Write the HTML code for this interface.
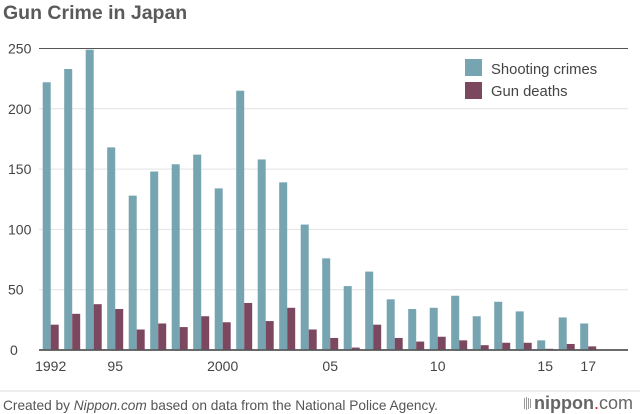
<!DOCTYPE html>
<html><head><meta charset="utf-8"><style>
body{margin:0;background:#fff;font-family:"Liberation Sans",sans-serif;}
#wrap{position:relative;width:640px;height:414px;overflow:hidden;}
</style></head><body>
<div id="wrap">
<svg id="chart" width="640" height="414" xmlns="http://www.w3.org/2000/svg">
<text x="3" y="19" font-size="19.5" font-weight="bold" fill="#5a5a5a" font-family="Liberation Sans, sans-serif">Gun Crime in Japan</text>
<g id="grid"></g>
<g id="bars"></g>
<g id="legend">
<rect x="465" y="59" width="17" height="17" fill="#76a4b1"/>
<text x="491" y="74" font-size="14.8" fill="#444">Shooting crimes</text>
<rect x="465" y="82" width="17" height="17" fill="#7c4860"/>
<text x="491" y="96" font-size="14.8" fill="#444">Gun deaths</text>
</g>
<line x1="0" y1="391" x2="640" y2="391" stroke="#ddd" stroke-width="1"/>
<text x="3" y="410" font-size="13.7" fill="#555">Created by <tspan font-style="italic">Nippon.com</tspan> based on data from the National Police Agency.</text>
<g>
<rect x="524" y="398" width="1" height="11" fill="#999"/><rect x="526" y="397" width="1" height="13" fill="#999"/><rect x="528" y="398" width="1" height="11" fill="#999"/><rect x="530" y="399" width="1" height="9" fill="#999"/>
<text x="534" y="409" font-size="18" fill="#666"><tspan font-weight="bold">nippon</tspan><tspan fill="#d22">.</tspan>com</text>
</g>
</svg>
</div>
<script>
const years=["1992","1993","1994","1995","1996","1997","1998","1999","2000","2001","2002","2003","2004","2005","2006","2007","2008","2009","2010","2011","2012","2013","2014","2015","2016","2017"];
const shooting=[222,233,249,168,128,148,154,162,134,215,158,139,104,76,53,65,42,34,35,45,28,40,32,8,27,22];
const deaths=[21,30,38,34,17,22,19,28,23,39,24,35,17,10,2,21,10,7,11,8,4,6,6,1,5,3];
const yTicks=[0,50,100,150,200,250];
const xLabels={"1992":"1992","1995":"95","2000":"2000","2005":"05","2010":"10","2015":"15","2017":"17"};
const NS="http://www.w3.org/2000/svg";
const y0=350, pxPer=(350-48.5)/250;
function yS(v){return y0-v*pxPer;}
function xS(i){return 42.7+i*21.5;}
const bw=8;
const grid=document.getElementById('grid'), bars=document.getElementById('bars');
function mk(tag,attrs,parent){const e=document.createElementNS(NS,tag);for(const k in attrs)e.setAttribute(k,attrs[k]);parent.appendChild(e);return e;}
yTicks.forEach(t=>{
  const l=mk('line',{x1:39,x2:628,y1:yS(t),y2:yS(t),stroke:t===250?'#555':(t===0?'#555':'#e2e2e2'),'stroke-width':t===0?1.5:1},grid);
  
  
  const tx=mk('text',{x:t===0?10:8,y:yS(t)+5,'font-size':14,fill:'#444'},grid);
  tx.textContent=t;
  
  
});
years.forEach((yr,i)=>{
  const x=xS(i);
  const a=mk('rect',{x:x,y:yS(shooting[i]),width:bw,height:shooting[i]*pxPer,fill:'#76a4b1'},bars);
  
  
  const b=mk('rect',{x:x+bw,y:yS(deaths[i]),width:bw,height:deaths[i]*pxPer,fill:'#7c4860'},bars);
  
  
  if(xLabels[yr]){
    const t=mk('text',{x:x+bw,y:371,'font-size':14,fill:'#444','text-anchor':'middle'},bars);
    t.textContent=xLabels[yr];
    
    
  }
});
const bl=mk('line',{x1:39,x2:628,y1:y0,y2:y0,stroke:'#555','stroke-width':1.5},bars);


</script>
</body></html>
